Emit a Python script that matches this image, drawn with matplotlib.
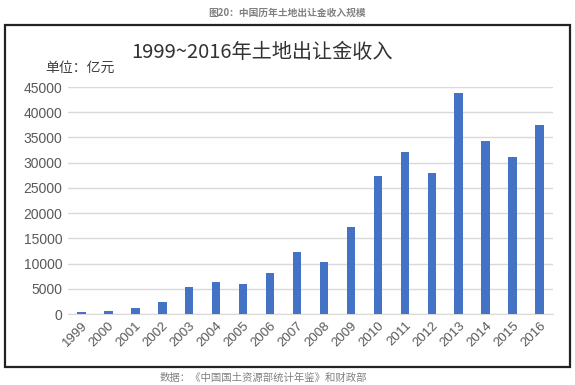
import matplotlib.pyplot as plt
from matplotlib.patches import Rectangle

plt.rcParams['font.family'] = ['Noto Sans CJK SC', 'DejaVu Sans']

years = [str(y) for y in range(1999, 2017)]
income = [514, 596, 1296, 2417, 5421, 6412, 5884, 8078, 12217, 10260,
          17180, 27464, 32126, 28042, 43745, 34377, 31221, 37457]
yticks = list(range(0, 45001, 5000))

fig = plt.figure(figsize=(5.75, 3.85), dpi=100)
ax = fig.add_axes([0.118, 0.184, 0.844, 0.59])

x = range(len(years))
ax.bar(x, income, width=0.32, color='#4472C4', zorder=3)
ax.set_xlim(-0.5, len(years) - 0.5)
ax.set_ylim(0, 45000)
ax.set_yticks(yticks)
ax.set_yticklabels([str(v) for v in yticks], fontsize=10, color='#595959',
                   family=['Liberation Sans', 'DejaVu Sans'])
ax.set_xticks(list(x))
ax.set_xticklabels(years, rotation=45, fontsize=9.5, color='#595959',
                   family=['Liberation Sans', 'DejaVu Sans'],
                   ha='right', rotation_mode='anchor')
ax.tick_params(length=0, pad=4)
ax.grid(axis='y', color='#d9d9d9', linewidth=1, zorder=0)
for s in ['top', 'right', 'left']:
    ax.spines[s].set_visible(False)
ax.spines['bottom'].set_color('#d9d9d9')

# border box
fig.patches.append(Rectangle((5 / 575, 1 - 367 / 385), 565 / 575, 342 / 385,
                             transform=fig.transFigure, fill=False,
                             edgecolor='#222222', linewidth=1.6))

fig.text(0.5, 1 - 13 / 385, '图20：中国历年土地出让金收入规模', ha='center', va='center',
         fontsize=7, color='#808080', fontweight='bold')
fig.text(262 / 575, 1 - 53 / 385, '1999~2016年土地出让金收入', ha='center', va='center',
         fontsize=14.5, color='#333333')
fig.text(45 / 575, 1 - 68 / 385, '单位：亿元', ha='left', va='center',
         fontsize=10, color='#404040')
fig.text(263 / 575, 1 - 378 / 385, '数据：《中国国土资源部统计年鉴》和财政部', ha='center',
         va='center', fontsize=7.5, color='#808080')

fig.savefig('out.png', dpi=100)
